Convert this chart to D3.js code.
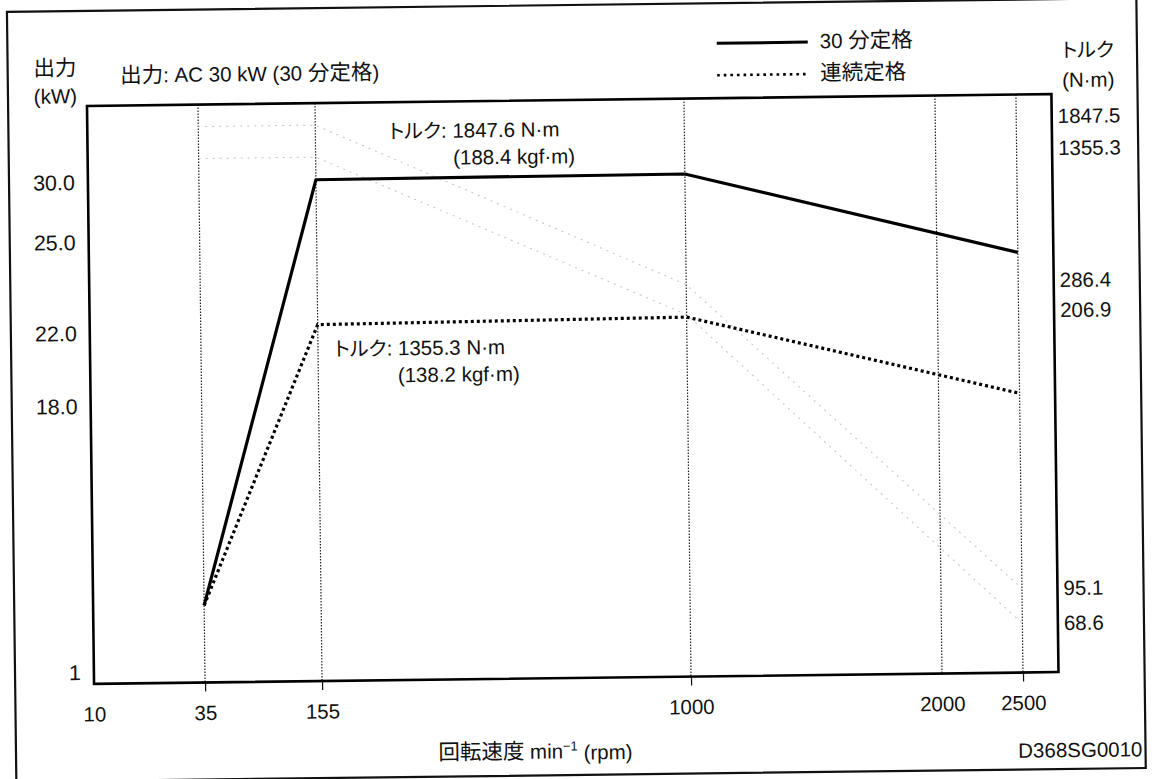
<!DOCTYPE html>
<html>
<head>
<meta charset="utf-8">
<script src="https://cdn.jsdelivr.net/npm/d3@7"></script>
<style>
  body { margin: 0; background: #fff; }
  svg { display: block; }
  text { font-family: "Liberation Sans", Arial, "Noto Sans CJK JP", sans-serif; fill: #111; }
  tspan.kana { font-family: "Noto Sans CJK JP", sans-serif; font-feature-settings: "palt"; }
</style>
</head>
<body>
<svg id="chart" width="1158" height="779"></svg>
<script>
// speed points (rpm) where the curves bend
const speeds = [35, 155, 1000, 2500];
const xTicks = [10, 35, 155, 1000, 2000, 2500];
const yTicks = [1, 18.0, 22.0, 25.0, 30.0];
const torqueTicks = [1847.5, 1355.3, 286.4, 206.9, 95.1, 68.6];

// output kW
const rated30 = [5.2, 30.0, 30.1, 24.3];
const ratedCont = [5.2, 22.2, 22.3, 18.1];

// torque N·m (faint curves)
const torque30 = [1847.5, 1847.5, 286.4, 95.1];
const torqueCont = [1355.3, 1355.3, 206.9, 68.6];

const plotLeft = 90.5, plotTop = 100, w = 964.5, h = 578;
const fs = 20.5;

const svg = d3.select('#chart');
// the original is a slightly skewed scan
const root = svg.append('g').attr('transform', 'rotate(-0.7 573 390)');

root.append('rect')
  .attr('x', 11.6).attr('y', 5).attr('width', 1129.5).attr('height', 770)
  .attr('fill', 'none').attr('stroke', '#111').attr('stroke-width', 2.2);

const g = root.append('g').attr('transform', `translate(${plotLeft},${plotTop})`);

// schematic axes: piecewise linear
const x = d3.scaleLinear().domain(xTicks).range([0, 111, 228, 597, 848, 929]);
const y = d3.scaleLinear().domain(yTicks).range([566.6, 300.6, 227.6, 136.6, 76.6]);
const yR = d3.scaleLinear().domain(torqueTicks).range([22, 54, 186, 216, 494, 529]);

// vertical dotted guides
g.selectAll('line.guide')
  .data(xTicks.slice(1))
  .join('line')
  .attr('class', 'guide')
  .attr('x1', d => x(d)).attr('x2', d => x(d))
  .attr('y1', 0).attr('y2', h)
  .attr('stroke', '#222').attr('stroke-width', 1.2)
  .attr('stroke-dasharray', '1.5,1.5');

// faint torque curves
const line = (ys, sc) => d3.line().x((d, i) => x(speeds[i])).y(d => sc(d))(ys);
[torque30, torqueCont].forEach(t => {
  g.append('path')
    .attr('d', line(t, yR))
    .attr('fill', 'none').attr('stroke', '#c4c4c4').attr('stroke-width', 1)
    .attr('stroke-dasharray', '2,5');
});

function styleTicks(sel, size) {
  sel.select('.domain').remove();
  sel.selectAll('text').attr('font-size', size).attr('fill', '#111')
    .style('font-family', '"Liberation Sans", Arial, sans-serif');
}

// x axis
const xAxis = g.append('g').attr('transform', `translate(0,${h})`)
  .call(d3.axisBottom(x).tickValues(xTicks).tickSize(9).tickPadding(14).tickFormat(d3.format('d')));
styleTicks(xAxis, fs);
xAxis.selectAll('.tick line').attr('stroke', '#111').attr('stroke-width', 1.2)
  .attr('opacity', d => (d === 10 || d === 2000) ? 0 : 1);

// left axis
const yAxis = g.append('g')
  .call(d3.axisLeft(y).tickValues(yTicks).tickSize(0).tickPadding(13)
    .tickFormat(d => d === 1 ? '1' : d3.format('.1f')(d)));
styleTicks(yAxis, 21.5);

// right torque labels
const rAxis = g.append('g').attr('transform', `translate(${w},0)`)
  .call(d3.axisRight(yR).tickValues(torqueTicks).tickSize(0).tickPadding(6).tickFormat(d3.format('.1f')));
styleTicks(rAxis, fs);

// output curves
g.append('path')
  .attr('d', line(rated30, y))
  .attr('fill', 'none').attr('stroke', '#000').attr('stroke-width', 3.2)
  .attr('stroke-linejoin', 'round');
g.append('path')
  .attr('d', line(ratedCont, y))
  .attr('fill', 'none').attr('stroke', '#000').attr('stroke-width', 3.2)
  .attr('stroke-dasharray', '3,3');

// frame
g.append('rect')
  .attr('width', w).attr('height', h)
  .attr('fill', 'none').attr('stroke', '#000').attr('stroke-width', 2.6);

// text with kanji / katakana runs sized like the scan
function label(parent, tx, ty, s, anchor) {
  const t = parent.append('text')
    .attr('x', tx).attr('y', ty).attr('dy', '0.35em')
    .attr('text-anchor', anchor || 'start').attr('font-size', fs);
  s.split(/([\u4e00-\u9fff]+|[\u30a0-\u30ff]+)/).filter(p => p).forEach(p => {
    const ts = t.append('tspan').text(p);
    if (/[\u4e00-\u9fff]/.test(p)) ts.attr('font-size', 21.5);
    else if (/[\u30a0-\u30ff]/.test(p)) ts.attr('class', 'kana').attr('font-size', 20);
  });
  return t;
}

// legend
const legend = root.append('g').attr('transform', 'translate(721,45)');
legend.append('line').attr('x1', 0).attr('x2', 91).attr('y1', 0).attr('y2', 0)
  .attr('stroke', '#000').attr('stroke-width', 3);
legend.append('line').attr('x1', 0).attr('x2', 91).attr('y1', 32).attr('y2', 32)
  .attr('stroke', '#000').attr('stroke-width', 2.6).attr('stroke-dasharray', '2.6,4');
label(legend, 103, -1, '30 分定格');
label(legend, 103, 31, '連続定格');

label(root, 59, 62, '出力', 'middle');
label(root, 59, 90, '(kW)', 'middle');
label(root, 124, 70, '出力: AC 30 kW (30 分定格)');
label(root, 1092, 56, 'トルク', 'middle');
label(root, 1092, 86, '(N·m)', 'middle');
label(root, 392, 129, 'トルク: 1847.6 N·m');
label(root, 456, 156, '(188.4 kgf·m)');
label(root, 335, 346, 'トルク: 1355.3 N·m');
label(root, 398, 373, '(138.2 kgf·m)');
label(root, 1138, 756, 'D368SG0010', 'end');

const xt = label(root, 531, 751, '回転速度 min', 'middle');
xt.append('tspan').attr('font-size', 13).attr('dy', '-0.6em').text('−1');
xt.append('tspan').attr('dy', '0.45em').text(' (rpm)');
</script>
</body>
</html>
